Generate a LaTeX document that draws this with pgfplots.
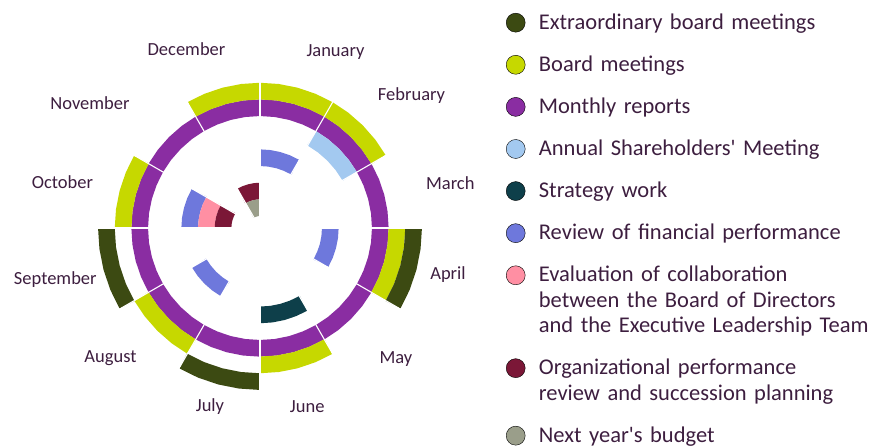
\documentclass[border=0pt]{standalone}
\usepackage{fontspec}
\setmainfont{Carlito}
\usepackage{pgfplots}
\pgfplotsset{compat=1.18}
\usepgfplotslibrary{polar}
\definecolor{cOlive}{HTML}{3C4A12}
\definecolor{cLime}{HTML}{C6D800}
\definecolor{cPurple}{HTML}{8A2DA2}
\definecolor{cLBlue}{HTML}{A3C9F0}
\definecolor{cTeal}{HTML}{0E3F4A}
\definecolor{cBlue}{HTML}{6E78DC}
\definecolor{cPink}{HTML}{FF8FA3}
\definecolor{cDRed}{HTML}{7B1737}
\definecolor{cGrey}{HTML}{9A9E8A}
\definecolor{textcol}{HTML}{3D1E3F}
\pgfplotsset{ring/.style={forget plot, line width=16.65pt, line cap=butt, line join=miter},
  sep/.style={forget plot, white, line width=1.1pt}}
\begin{document}
\begin{tikzpicture}
\begin{polaraxis}[
  scale only axis, width=324pt, height=324pt,
  xmin=0, xmax=360, ymin=0, ymax=162,
  hide axis, clip=false,
  legend image code/.code={\fill[#1] (0pt,6.6pt) circle (9.5pt);},
  legend style={at={(axis cs:0,0)}, anchor=north west, xshift=246pt, yshift=216.5pt,
    draw=none, fill=none, inner sep=0pt, outer sep=0pt, column sep=13.5pt, row sep=16.7pt,
    cells={anchor=base west},
    nodes={inner sep=0pt, outer sep=0pt, text depth={}, text height={}, text width=340pt, align=left,
      text=textcol, font=\fontsize{22.5}{25.4}\selectfont,
      execute at begin node={\strut}, execute at end node={\strut}}},
]
\coordinate (O) at (axis cs:0,0);
% Monthly reports (ring 7), all twelve months
\addplot[ring, cPurple] coordinates {(90,120.3) (82.5,120.3) (75,120.3) (67.5,120.3) (60,120.3) (52.5,120.3) (45,120.3) (37.5,120.3) (30,120.3) (22.5,120.3) (15,120.3) (7.5,120.3) (0,120.3) (-7.5,120.3) (-15,120.3) (-22.5,120.3) (-30,120.3) (-37.5,120.3) (-45,120.3) (-52.5,120.3) (-60,120.3) (-67.5,120.3) (-75,120.3) (-82.5,120.3) (-90,120.3) (-97.5,120.3) (-105,120.3) (-112.5,120.3) (-120,120.3) (-127.5,120.3) (-135,120.3) (-142.5,120.3) (-150,120.3) (-157.5,120.3) (-165,120.3) (-172.5,120.3) (-180,120.3) (-187.5,120.3) (-195,120.3) (-202.5,120.3) (-210,120.3) (-217.5,120.3) (-225,120.3) (-232.5,120.3) (-240,120.3) (-247.5,120.3) (-255,120.3) (-262.5,120.3) (-270,120.3)};
% Board meetings (ring 8): Dec, Jan, Feb, Apr, Jun, Aug, Oct
\addplot[ring, cLime] coordinates {(120,136.9) (112.5,136.9) (105,136.9) (97.5,136.9) (90,136.9) (82.5,136.9) (75,136.9) (67.5,136.9) (60,136.9) (52.5,136.9) (45,136.9) (37.5,136.9) (30,136.9)};
\addplot[ring, cLime] coordinates {(0,136.9) (-7.5,136.9) (-15,136.9) (-22.5,136.9) (-30,136.9)};
\addplot[ring, cLime] coordinates {(-60,136.9) (-67.5,136.9) (-75,136.9) (-82.5,136.9) (-90,136.9)};
\addplot[ring, cLime] coordinates {(-120,136.9) (-127.5,136.9) (-135,136.9) (-142.5,136.9) (-150,136.9)};
\addplot[ring, cLime] coordinates {(180,136.9) (172.5,136.9) (165,136.9) (157.5,136.9) (150,136.9)};
% Extraordinary board meetings (ring 9): Apr, Jul, Sep
\addplot[ring, cOlive] coordinates {(0,153.6) (-7.5,153.6) (-15,153.6) (-22.5,153.6) (-30,153.6)};
\addplot[ring, cOlive] coordinates {(-90,153.6) (-97.5,153.6) (-105,153.6) (-112.5,153.6) (-120,153.6)};
\addplot[ring, cOlive] coordinates {(-150,153.6) (-157.5,153.6) (-165,153.6) (-172.5,153.6) (-180,153.6)};
% Annual Shareholders' Meeting (ring 6): Feb
\addplot[ring, cLBlue] coordinates {(60,103.6) (52.5,103.6) (45,103.6) (37.5,103.6) (30,103.6)};
% Strategy work (ring 5): Jun
\addplot[ring, cTeal] coordinates {(-60,86.9) (-67.5,86.9) (-75,86.9) (-82.5,86.9) (-90,86.9)};
% Review of financial performance (ring 4): Jan, Apr, Aug, Oct
\addplot[ring, cBlue] coordinates {(90,70.3) (82.5,70.3) (75,70.3) (67.5,70.3) (60,70.3)};
\addplot[ring, cBlue] coordinates {(0,70.3) (-7.5,70.3) (-15,70.3) (-22.5,70.3) (-30,70.3)};
\addplot[ring, cBlue] coordinates {(-120,70.3) (-127.5,70.3) (-135,70.3) (-142.5,70.3) (-150,70.3)};
\addplot[ring, cBlue] coordinates {(180,70.3) (172.5,70.3) (165,70.3) (157.5,70.3) (150,70.3)};
% Evaluation of collaboration (ring 3): Oct
\addplot[ring, cPink] coordinates {(180,53.6) (172.5,53.6) (165,53.6) (157.5,53.6) (150,53.6)};
% Organizational performance review (ring 2): Oct, Dec
\addplot[ring, cDRed] coordinates {(180,36.95) (172.5,36.95) (165,36.95) (157.5,36.95) (150,36.95)};
\addplot[ring, cDRed] coordinates {(120,36.95) (112.5,36.95) (105,36.95) (97.5,36.95) (90,36.95)};
% Next year's budget (ring 1): Dec
\addplot[ring, cGrey] coordinates {(120,20.3) (112.5,20.3) (105,20.3) (97.5,20.3) (90,20.3)};
% month separators
\addplot[sep] coordinates {(90,11) (90,163)};
\addplot[sep] coordinates {(60,11) (60,163)};
\addplot[sep] coordinates {(30,11) (30,163)};
\addplot[sep] coordinates {(0,11) (0,163)};
\addplot[sep] coordinates {(-30,11) (-30,163)};
\addplot[sep] coordinates {(-60,11) (-60,163)};
\addplot[sep] coordinates {(-90,11) (-90,163)};
\addplot[sep] coordinates {(-120,11) (-120,163)};
\addplot[sep] coordinates {(-150,11) (-150,163)};
\addplot[sep] coordinates {(180,11) (180,163)};
\addplot[sep] coordinates {(150,11) (150,163)};
\addplot[sep] coordinates {(120,11) (120,163)};
% legend
\addlegendimage{fill=cOlive}\addlegendentry{Extraordinary board meetings}
\addlegendimage{fill=cLime}\addlegendentry{Board meetings}
\addlegendimage{fill=cPurple}\addlegendentry{Monthly reports}
\addlegendimage{fill=cLBlue}\addlegendentry{Annual Shareholders\textquotesingle{} Meeting}
\addlegendimage{fill=cTeal}\addlegendentry{Strategy work}
\addlegendimage{fill=cBlue}\addlegendentry{Review of financial performance}
\addlegendimage{fill=cPink}\addlegendentry{Evaluation of collaboration\\between the Board of Directors\\and the Executive Leadership Team}
\addlegendimage{fill=cDRed}\addlegendentry{Organizational performance\\review and succession planning}
\addlegendimage{fill=cGrey}\addlegendentry{Next year\textquotesingle s budget}
\end{polaraxis}
\begin{scope}[every node/.style={text=textcol, font=\fontsize{18.5}{22}\selectfont, inner sep=0pt}]
\node[shift={(75.5pt,176.3pt)}] at (O) {January};
\node[shift={(151.5pt,132.3pt)}] at (O) {February};
\node[shift={(190.3pt,44.7pt)}] at (O) {March};
\node[shift={(188pt,-47pt)}] at (O) {April};
\node[shift={(136pt,-131.3pt)}] at (O) {May};
\node[shift={(47.2pt,-178.7pt)}] at (O) {June};
\node[shift={(-50pt,-178.7pt)}] at (O) {July};
\node[shift={(-149.5pt,-130.3pt)}] at (O) {August};
\node[shift={(-204.7pt,-51.3pt)}] at (O) {September};
\node[shift={(-197.5pt,46.3pt)}] at (O) {October};
\node[shift={(-170pt,124.7pt)}] at (O) {November};
\node[shift={(-73.5pt,178.7pt)}] at (O) {December};
\end{scope}
\pgfresetboundingbox
\path[use as bounding box] (O) ++(-260pt,-217pt) rectangle ++(872pt,445pt);
\end{tikzpicture}
\end{document}
